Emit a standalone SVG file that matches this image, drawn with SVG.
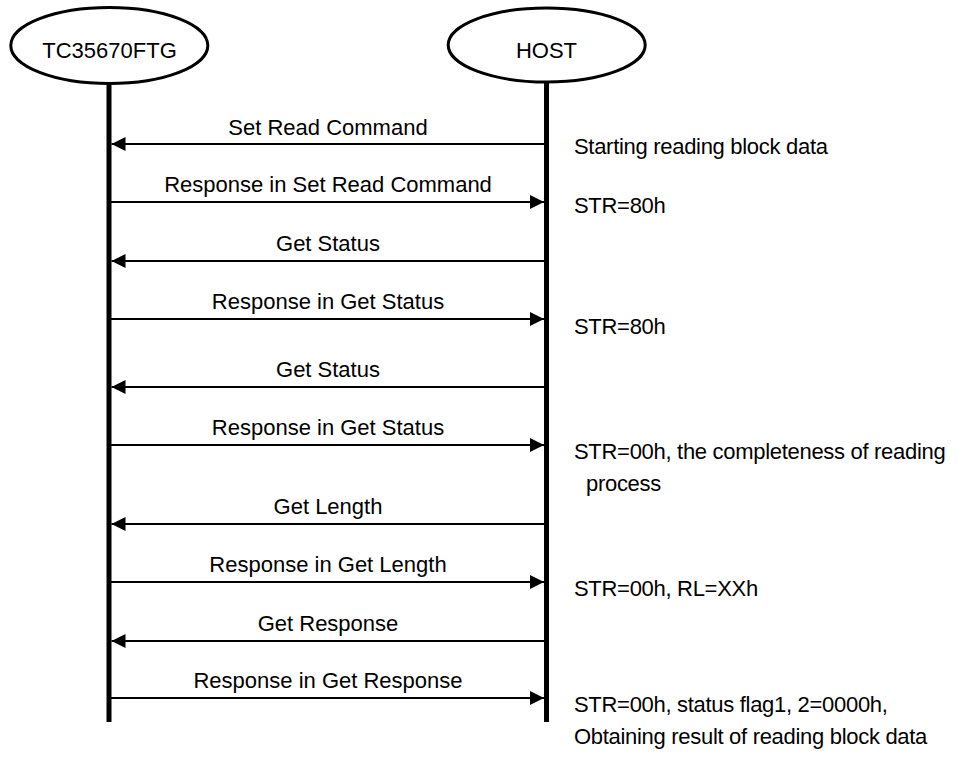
<svg xmlns="http://www.w3.org/2000/svg" width="958" height="758" viewBox="0 0 958 758">
<style>
text{font-family:"Liberation Sans",Arial,sans-serif;font-size:22px;fill:#000}
.lbl{text-anchor:middle}
.note{letter-spacing:-0.3px}
.node ellipse{fill:#fff;stroke:#000;stroke-width:3}
.life{stroke:#000;stroke-width:5}
.msg{stroke:#000;stroke-width:2;fill:none;marker-end:url(#ah)}
</style>
<defs>
<marker id="ah" markerUnits="userSpaceOnUse" markerWidth="14" markerHeight="14" refX="14" refY="7" orient="auto" viewBox="0 0 14 14">
<path d="M0,0 L14,7 L0,14 z" fill="#000"/>
</marker>
</defs>
<rect width="958" height="758" fill="#fff"/>
<g id="lifelines">
<line class="life" x1="109" y1="83" x2="109" y2="722"/>
<line class="life" x1="546.5" y1="82" x2="546.5" y2="722"/>
</g>
<g id="node-tc35670ftg" class="node">
<ellipse cx="109.3" cy="45.5" rx="98.5" ry="38"/>
<text class="lbl" x="109.5" y="57.5">TC35670FTG</text>
</g>
<g id="node-host" class="node">
<ellipse cx="546.7" cy="45" rx="98.5" ry="37"/>
<text class="lbl" x="546.5" y="57.5">HOST</text>
</g>
<g id="connectors">
<line class="msg" x1="545" y1="144" x2="111.5" y2="144"/>
<line class="msg" x1="111" y1="202" x2="544" y2="202"/>
<line class="msg" x1="545" y1="261" x2="111.5" y2="261"/>
<line class="msg" x1="111" y1="319" x2="544" y2="319"/>
<line class="msg" x1="545" y1="387" x2="111.5" y2="387"/>
<line class="msg" x1="111" y1="445" x2="544" y2="445"/>
<line class="msg" x1="545" y1="524" x2="111.5" y2="524"/>
<line class="msg" x1="111" y1="582" x2="544" y2="582"/>
<line class="msg" x1="545" y1="641" x2="111.5" y2="641"/>
<line class="msg" x1="111" y1="698" x2="544" y2="698"/>
</g>
<g id="message-labels">
<text class="lbl" x="328" y="135">Set Read Command</text>
<text class="lbl" x="328" y="192">Response in Set Read Command</text>
<text class="lbl" x="328" y="251">Get Status</text>
<text class="lbl" x="328" y="309">Response in Get Status</text>
<text class="lbl" x="328" y="377">Get Status</text>
<text class="lbl" x="328" y="435">Response in Get Status</text>
<text class="lbl" x="328" y="514">Get Length</text>
<text class="lbl" x="328" y="572">Response in Get Length</text>
<text class="lbl" x="328" y="631">Get Response</text>
<text class="lbl" x="328" y="688">Response in Get Response</text>
</g>
<g id="notes">
<text class="note" x="574" y="154">Starting reading block data</text>
<text class="note" x="574" y="212.5">STR=80h</text>
<text class="note" x="574" y="334">STR=80h</text>
<text class="note" x="574" y="459">STR=00h, the completeness of reading</text>
<text class="note" x="586" y="491">process</text>
<text class="note" x="574" y="596">STR=00h, RL=XXh</text>
<text class="note" x="574" y="712">STR=00h, status flag1, 2=0000h,</text>
<text class="note" x="574" y="744">Obtaining result of reading block data</text>
</g>
</svg>
